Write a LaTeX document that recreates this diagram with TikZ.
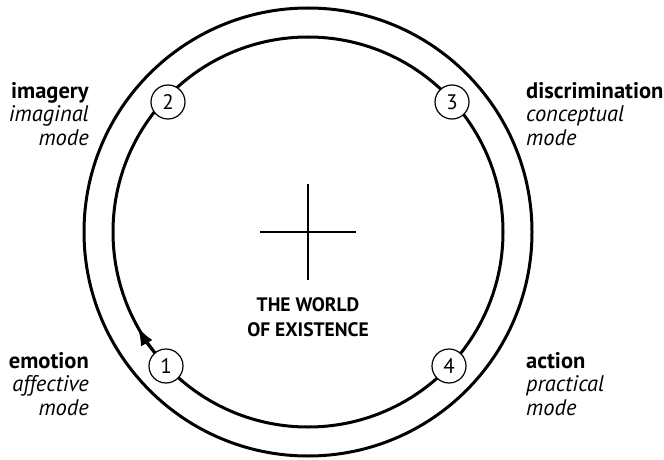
\documentclass[tikz,border=0pt]{standalone}
\usepackage{fontspec}
\setmainfont{PT Sans}
\usetikzlibrary{arrows.meta}

\begin{document}
\begin{tikzpicture}[
  x=1pt, y=1pt,
  every node/.style={font=\fontsize{22.5}{23.5}\selectfont},
  ring/.style={line width=3pt},
  num/.style={draw, circle, line width=1.2pt, fill=white,
              minimum size=34pt, inner sep=0pt,
              font=\fontsize{21}{21}\selectfont},
  lmode/.style={anchor=base east, align=right, inner sep=0pt},
  rmode/.style={anchor=base west, align=left, inner sep=0pt},
  arr/.style={ring, -{Latex[length=19pt, width=13pt]}}
]
\useasboundingbox (0,0) rectangle (664,459);

%% --- Rings ---------------------------------------------------
\coordinate (c) at (308,227);
\draw[ring] (c) circle[radius=224];
\draw[ring] (c) circle[radius=195];
\draw[arr] (c) ++(222:195) arc[start angle=222, end angle=209, radius=195];

%% --- Centre --------------------------------------------------
\draw[line width=1.4pt] (c) ++(-48,0) -- ++(96,0);
\draw[line width=1.4pt] (c) ++(0,-48) -- ++(0,96);
\node[font=\fontsize{19.5}{24.5}\selectfont\bfseries, align=center] (world)
     at (308,142) {THE WORLD\\OF EXISTENCE};

%% --- Stations ------------------------------------------------
\node[num] (n1) at (166,93)  {1};
\node[num] (n2) at (168,357) {2};
\node[num] (n3) at (452,357) {3};
\node[num] (n4) at (449,93)  {4};

%% --- Modes ---------------------------------------------------
\node[lmode] (imagery) at (89,314)
     {\textbf{imagery}\\\textit{imaginal}\\\textit{mode}};
\node[rmode] (discrim) at (526,314)
     {\textbf{discrimination}\\\textit{conceptual}\\\textit{mode}};
\node[lmode] (emotion) at (89,44)
     {\textbf{emotion}\\\textit{affective}\\\textit{mode}};
\node[rmode] (action) at (526,44)
     {\textbf{action}\\\textit{practical}\\\textit{mode}};

\end{tikzpicture}
\end{document}
